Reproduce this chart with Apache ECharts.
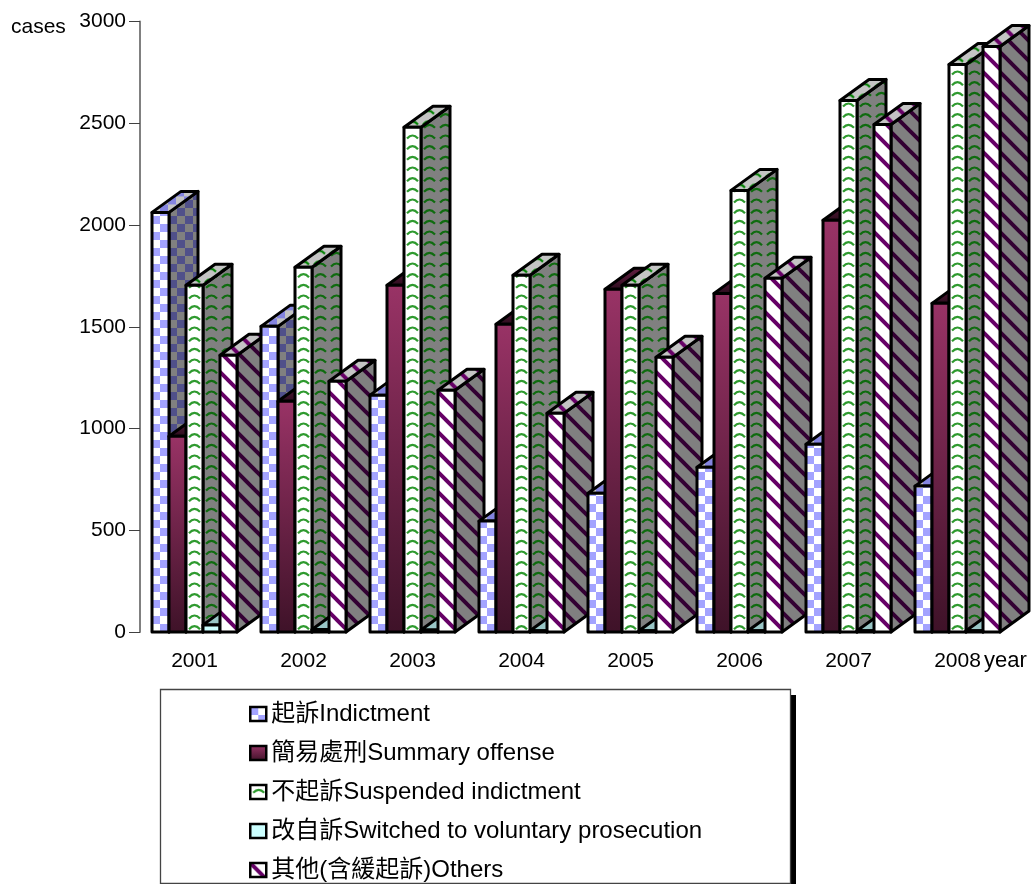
<!DOCTYPE html>
<html>
<head>
<meta charset="utf-8">
<style>html,body{margin:0;padding:0;background:#fff;overflow:hidden}#c{width:1031px;height:884px}</style>
<script src="https://cdn.jsdelivr.net/npm/echarts@6/dist/echarts.min.js"></script>
</head>
<body>
<div id="c"></div>
<script>
const categories = ['2001','2002','2003','2004','2005','2006','2007','2008'];
const tickFont = '"Liberation Sans", Arial, sans-serif';
const legendFont = '"Liberation Sans", Arial, "Noto Sans CJK TC", sans-serif';
const names = ['起訴Indictment','簡易處刑Summary offense','不起訴Suspended indictment','改自訴Switched to voluntary prosecution','其他(含緩起訴)Others'];
const indictment = [2062,1502,1164,545,682,810,923,717];
const summaryOffense = [962,1134,1704,1512,1684,1664,2023,1615];
const suspended = [1704,1792,2480,1753,1704,2170,2612,2789];
const switched = [35,12,10,6,6,6,6,6];
const others = [1360,1232,1188,1075,1350,1738,2494,2877];
const allValues = [indictment,summaryOffense,suspended,switched,others];

const BAR = 17, DX = 29, DY = 21;

function tile(w,h,bg,draw){
  const c=document.createElement('canvas');c.width=w;c.height=h;
  const g=c.getContext('2d');g.fillStyle=bg;g.fillRect(0,0,w,h);draw(g);
  return c;
}
function checker(a,b){return tile(16,16,b,g=>{g.fillStyle=a;g.fillRect(0,0,8,8);g.fillRect(8,8,8,8);});}
function waves(col,bg){return tile(16,32,bg,g=>{
  g.strokeStyle=col;g.lineWidth=2.2;
  [5.3,16,26.7].forEach(y=>{
    g.beginPath();g.moveTo(3,y+2.5);g.quadraticCurveTo(8.5,y-3.5,14,y+2.5);g.stroke();
  });
});}
function stripes(col,bg){return tile(20,20,bg,g=>{
  g.strokeStyle=col;g.lineWidth=4;
  [-20,0,20].forEach(o=>{g.beginPath();g.moveTo(o-2,-2);g.lineTo(o+22,22);g.stroke();});
});}
function grad(a,b){return new echarts.graphic.LinearGradient(0,0,0,1,[{offset:0,color:a},{offset:1,color:b}]);}
function pat(c,x,y){return {image:c,repeat:'repeat',x:x||0,y:y||0};}

const faces = [
  {front:checker('#a3a3ff','#ffffff'),side:checker('#50508a','#808080'),top:checker('#8484e0','#c4c4c4')},
  {front:grad('#993366','#3e1228'),side:grad('#4d1a33','#1f0914'),top:grad('#661f44','#2a0c1c')},
  {front:waves('#2f9a2f','#ffffff'),side:waves('#0f6b0f','#808080'),top:waves('#008000','#c4c4c4')},
  {front:'#ccffff',side:'#668080',top:'#99c6c6'},
  {front:stripes('#660066','#ffffff'),side:stripes('#330033','#808080'),top:stripes('#660066','#c4c4c4')}
];
function fillOf(f,x,y){return f instanceof HTMLCanvasElement ? pat(f,x,y) : f;}

function makeRender(si){
  return function(params,api){
    const cat=api.value(0), val=api.value(1);
    const top=api.coord([cat,val]), base=api.coord([cat,0]);
    const l=top[0]+(si-2.5)*BAR, r=l+BAR, t=top[1], b=base[1];
    const z=cat*10+si;
    const st=(fill)=>({fill:fill,stroke:'#000',lineWidth:3,lineJoin:'round'});
    return {type:'group',children:[
      {type:'polygon',z2:z,shape:{points:[[r,t],[r+DX,t-DY],[r+DX,b-DY],[r,b]]},style:st(fillOf(faces[si].side,r,b))},
      {type:'polygon',z2:z,shape:{points:[[l,t],[l+DX,t-DY],[r+DX,t-DY],[r,t]]},style:st(fillOf(faces[si].top,l,t))},
      {type:'polygon',z2:z,shape:{points:[[l,t],[r,t],[r,b],[l,b]]},style:st(fillOf(faces[si].front,l,b))}
    ]};
  };
}

const chart=echarts.init(document.getElementById('c'),null,{renderer:'canvas',width:1031,height:884});
chart.setOption({
  animation:false,
  backgroundColor:'#ffffff',
  grid:{left:140,top:21.5,width:872,height:610.5,containLabel:false},
  xAxis:{type:'category',data:categories,boundaryGap:true,
    axisLine:{show:false},axisTick:{show:false},
    axisLabel:{color:'#000',fontSize:21,fontFamily:tickFont,margin:19,interval:0}},
  yAxis:{type:'value',min:0,max:3000,interval:500,
    splitLine:{show:false},
    axisLine:{show:true,lineStyle:{color:'#808080',width:2}},
    axisTick:{show:true,length:11,lineStyle:{color:'#404040',width:1}},
    axisLabel:{color:'#000',fontSize:21,fontFamily:tickFont,margin:14,padding:[2,0,0,0],formatter:v=>String(v)}},
  legend:{
    orient:'vertical',left:249,top:701,padding:0,height:300,itemWidth:16,itemHeight:14,itemGap:13,
    selectedMode:false,
    textStyle:{color:'#000',fontSize:24,fontFamily:legendFont,lineHeight:26},
    data:names.map((n,i)=>({name:n,icon:'rect',
      itemStyle:{color:fillOf(faces[i].front,0,0),borderColor:'#000',borderWidth:2.5}}))
  },
  graphic:[
    {type:'rect',z:0,shape:{x:790,y:695,width:6,height:189},style:{fill:'#000'}},
    {type:'rect',z:1,shape:{x:160.5,y:689.5,width:630,height:194},style:{fill:'#fff',stroke:'#444',lineWidth:1.3}},
    {type:'text',z:3,style:{text:'cases',x:11,y:27,fill:'#000',font:'21px '+tickFont,verticalAlign:'middle',textAlign:'left'}},
    {type:'text',z:3,style:{text:'year',x:984,y:661,fill:'#000',font:'22px '+tickFont,verticalAlign:'middle',textAlign:'left'}}
  ],
  series:allValues.map((vals,si)=>({
    type:'custom',name:names[si],coordinateSystem:'cartesian2d',clip:false,
    itemStyle:{color:fillOf(faces[si].front,0,0)},
    encode:{x:0,y:1},
    data:vals.map((v,i)=>[i,v]),
    renderItem:makeRender(si)
  }))
});
</script>
</body>
</html>
